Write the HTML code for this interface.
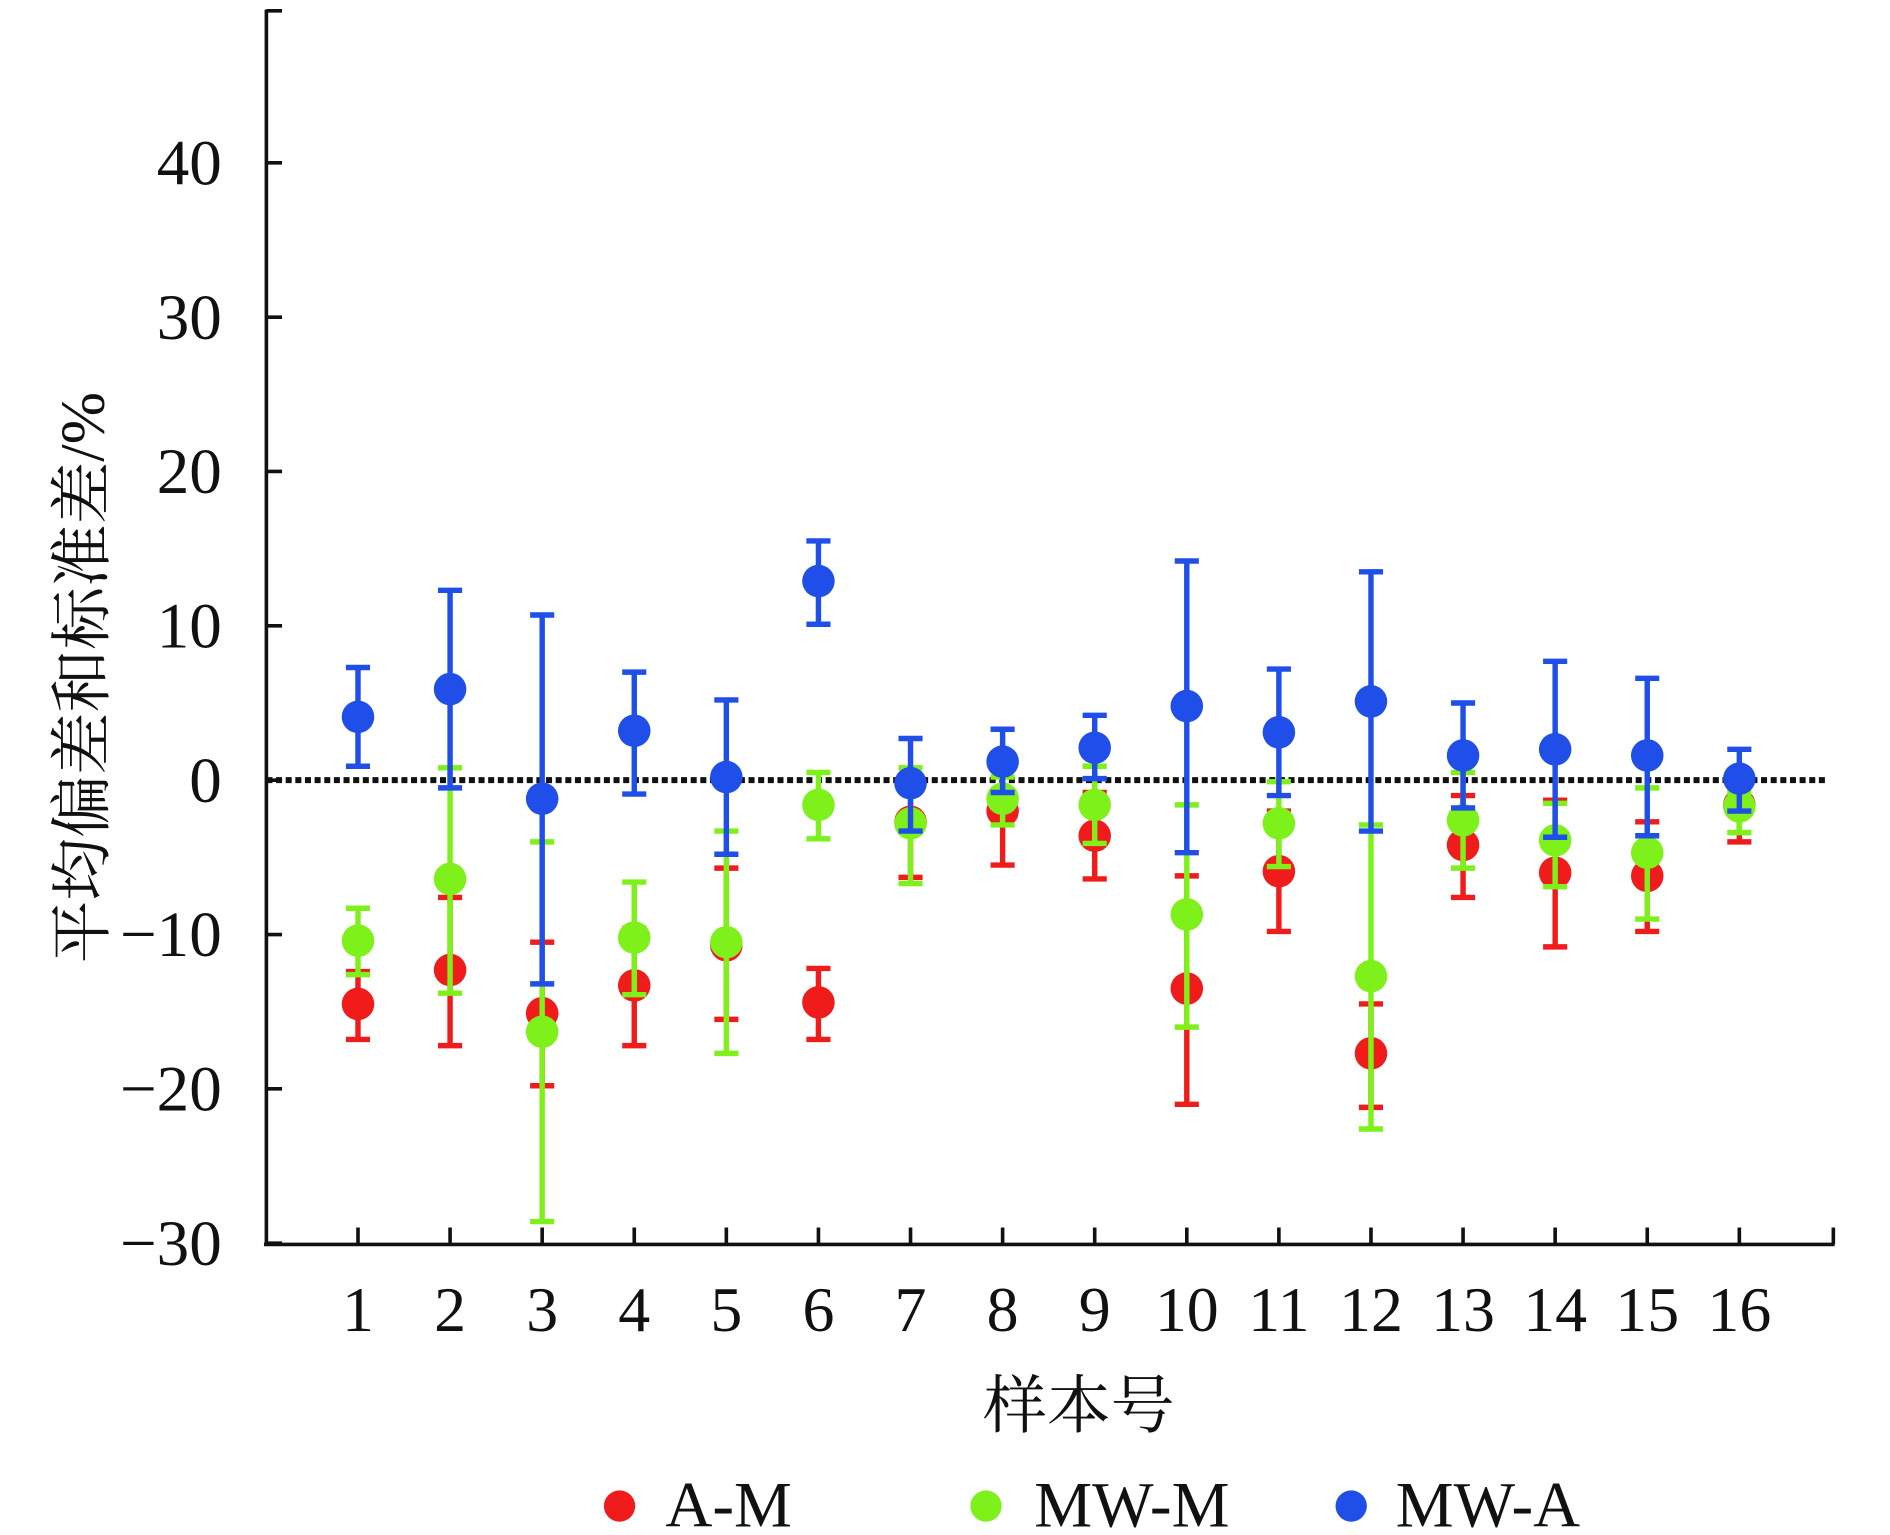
<!DOCTYPE html>
<html><head><meta charset="utf-8"><style>html,body{margin:0;padding:0;background:#fff}svg{display:block}</style></head>
<body>
<svg id="chart" width="1890" height="1535" viewBox="0 0 1568 1273" preserveAspectRatio="none" xmlns="http://www.w3.org/2000/svg">
<g id="axes"></g><g id="marks"></g>
<text transform="translate(86,562) rotate(-90)" text-anchor="middle" font-family="'Liberation Serif','Noto Serif CJK SC',serif" font-size="52" fill="#111">平均偏差和标准差/%</text>
<text x="895" y="1184" text-anchor="middle" font-family="'Liberation Serif','Noto Serif CJK SC',serif" font-size="53" fill="#111">样本号</text>
<g font-family="'Liberation Serif',serif" font-size="54" fill="#111">
<g><circle cx="514" cy="1249" r="13" fill="#f01c1c"/><text x="552" y="1266">A-M</text></g>
<g><circle cx="818" cy="1249" r="13" fill="#7ef01a"/><text x="858" y="1266">MW-M</text></g>
<g><circle cx="1121" cy="1249" r="13" fill="#1f4ee8"/><text x="1158" y="1266">MW-A</text></g>
</g>
</svg>
<script>
const categories=[1,2,3,4,5,6,7,8,9,10,11,12,13,14,15,16];
const yTicks=[-30,-20,-10,0,10,20,30,40];
const amMean=[-14.5,-12.3,-15.1,-13.3,-10.7,-14.4,-2.7,-2,-3.6,-13.5,-5.9,-17.7,-4.2,-6,-6.2,-1.6];
const amLow=[-16.8,-17.2,-19.8,-17.2,-15.5,-16.8,-6.3,-5.5,-6.4,-21,-9.8,-21.2,-7.6,-10.8,-9.8,-4];
const amHigh=[-12.4,-7.6,-10.5,-9.6,-5.7,-12.2,-0.5,-0.8,-0.8,-6.2,-2,-14.5,-1,-1.3,-2.7,0];
const mwmMean=[-10.4,-6.4,-16.3,-10.2,-10.5,-1.6,-2.8,-1.2,-1.6,-8.7,-2.8,-12.7,-2.6,-3.9,-4.7,-1.7];
const mwmLow=[-12.6,-13.8,-28.6,-13.9,-17.7,-3.8,-6.7,-2.9,-4.1,-16,-5.6,-22.6,-5.7,-6.9,-9,-3.4];
const mwmHigh=[-8.3,0.8,-4,-6.6,-3.3,0.5,0.8,0.2,0.9,-1.6,-0.1,-2.9,0.5,-1.5,-0.5,-0.8];
const mwaMean=[4.1,5.9,-1.2,3.2,0.2,12.9,-0.2,1.2,2.1,4.8,3.1,5.1,1.6,2,1.6,0.1];
const mwaLow=[0.9,-0.5,-13.2,-0.9,-4.8,10.1,-3.3,-0.8,0.1,-4.7,-1,-3.3,-1.8,-3.7,-3.6,-2];
const mwaHigh=[7.3,12.3,10.7,7,5.2,15.5,2.7,3.3,4.2,14.2,7.2,13.5,5,7.7,6.6,2];
const NS='http://www.w3.org/2000/svg';
const yS=v=>647-12.8*v;
const xS=i=>297+i*76.4;
function mk(tag,attrs,parent){const e=document.createElementNS(NS,tag);for(const k in attrs)e.setAttribute(k,attrs[k]);parent.appendChild(e);return e;}
const axes=document.getElementById('axes'),marks=document.getElementById('marks');
let e=mk('line',{x1:221,y1:8,x2:221,y2:1033,stroke:'#111','stroke-width':3},axes);


e=mk('line',{x1:219,y1:1032,x2:1522,y2:1032,stroke:'#111','stroke-width':3},axes);


mk('line',{x1:221,y1:9,x2:234,y2:9,stroke:'#111','stroke-width':3},axes);
mk('line',{x1:1521,y1:1032,x2:1521,y2:1018,stroke:'#111','stroke-width':3},axes);
yTicks.forEach(v=>{
  mk('line',{x1:221,y1:yS(v),x2:234,y2:yS(v),stroke:'#111','stroke-width':3},axes);
  const t=mk('text',{x:184,y:yS(v)+18,'text-anchor':'end','font-family':"'Liberation Serif',serif",'font-size':54,fill:'#111'},axes);
  t.textContent=v<0?'\u2212'+Math.abs(v):String(v);
  
  
});
categories.forEach((c,i)=>{
  mk('line',{x1:xS(i),y1:1032,x2:xS(i),y2:1018,stroke:'#111','stroke-width':3},axes);
  const t=mk('text',{x:xS(i),y:1104,'text-anchor':'middle','font-family':"'Liberation Serif',serif",'font-size':53,fill:'#111'},axes);
  t.textContent=c;
  
  
});
e=mk('line',{x1:221,y1:yS(0),x2:1517,y2:yS(0),stroke:'#111','stroke-width':5,'stroke-dasharray':'5 3'},axes);


function series(name,mean,lo,hi,color){
  const g=mk('g',{},marks);
  
  
  mean.forEach((m,i)=>{
    const x=xS(i);
    const b=mk('path',{d:`M${x},${yS(lo[i])}V${yS(hi[i])}M${x-10},${yS(lo[i])}H${x+10}M${x-10},${yS(hi[i])}H${x+10}`,stroke:color,'stroke-width':4.5,fill:'none'},g);
    
    
    const p=mk('circle',{cx:x,cy:yS(m),r:13.5,fill:color},g);
    
    
  });
}
series('a-m',amMean,amLow,amHigh,'#f01c1c');
series('mw-m',mwmMean,mwmLow,mwmHigh,'#7ef01a');
series('mw-a',mwaMean,mwaLow,mwaHigh,'#1f4ee8');
</script>
</body></html>
